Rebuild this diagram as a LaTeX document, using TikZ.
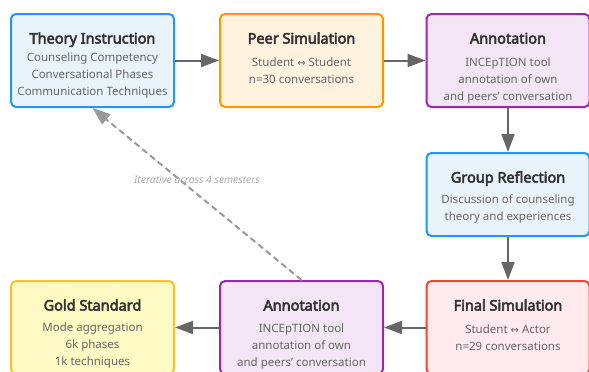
\documentclass[tikz,border=0pt]{standalone}
\usepackage{fontspec}
\setmainfont{Noto Sans}[AutoFakeBold=3.6]
\newfontfamily\arrowfont{DejaVu Sans}
\usetikzlibrary{arrows.meta, positioning}

% box colours: border / fill
\definecolor{blueline}{HTML}{2196F3}
\definecolor{bluefill}{HTML}{E8F4FA}
\definecolor{orangeline}{HTML}{FF9800}
\definecolor{orangefill}{HTML}{FFF3E0}
\definecolor{purpleline}{HTML}{9C27B0}
\definecolor{purplefill}{HTML}{F3E5F5}
\definecolor{redline}{HTML}{F44336}
\definecolor{redfill}{HTML}{FFEBEE}
\definecolor{goldline}{HTML}{FBC02D}
\definecolor{goldfill}{HTML}{FFF9C4}
\definecolor{titlegray}{HTML}{333333}
\definecolor{bodygray}{HTML}{666666}
\definecolor{arrowgray}{HTML}{666666}
\definecolor{loopgray}{HTML}{999999}
\definecolor{notegray}{HTML}{AAAAAA}

\newcommand{\lr}{{\arrowfont\fontsize{10}{17}\selectfont ↔}}

\begin{document}
\begin{tikzpicture}[x=1pt, y=-1pt,
		box/.style n args={2}{draw=#1, fill=#2, line width=2pt, rounded corners=5pt,
			minimum width=163pt, minimum height=93pt, inner sep=0pt},
		title/.style={font=\bfseries\fontsize{14.5}{16}\selectfont, text=titlegray, anchor=base, inner sep=0pt},
		body/.style={font=\fontsize{11.5}{17}\selectfont, text=bodygray, align=center, anchor=base, inner sep=0pt},
		flow/.style={-{Triangle[length=18pt, width=13pt]}, line width=2pt, draw=arrowgray, fill=arrowgray},
		loopback/.style={-{Triangle[length=18pt, width=13pt]}, line width=2pt, draw=loopgray, fill=loopgray,
			dash pattern=on 6pt off 4pt},
		note/.style={font=\itshape\fontsize{10.3}{12}\selectfont, text=notegray}
		]
		
		\clip (0,0) rectangle (589,372);
		
		% ==========================================
		% 1. STAGE BOXES
		% ==========================================
		% name / centre x / centre y / border / fill
		\foreach \name/\cx/\cy/\lclr/\fclr in {
			theory/92.5/60.5/blueline/bluefill,
			peer/301.5/60.5/orangeline/orangefill,
			annotA/508/60.5/purpleline/purplefill,
			final/508/327.5/redline/redfill,
			annotB/301.5/327.5/purpleline/purplefill,
			gold/92.5/327.5/goldline/goldfill%
		} {
			\node[box={\lclr}{\fclr}] (\name) at (\cx,\cy) {};
		}
		% the reflection box is a little shorter
		\node[box={blueline}{bluefill}, minimum height=83pt] (reflect) at (508,194.5) {};
		
		% ==========================================
		% 2. TITLES AND DESCRIPTIONS
		% ==========================================
		\foreach \name/\ttl in {
			theory/Theory Instruction,
			peer/Peer Simulation,
			annotA/Annotation,
			reflect/Group Reflection,
			final/Final Simulation,
			annotB/Annotation,
			gold/Gold Standard%
		} {
			\node[title] (\name-t) at ([yshift=-30.5pt]\name.north) {\ttl};
		}
		
		% the base of a multi-line node is its last line
		\node[body] (theory-b) at ([yshift=-82pt]theory.north)
		{Counseling Competency\\Conversational Phases\\Communication Techniques};
		\node[body] (peer-b) at ([yshift=-70.5pt]peer.north)
		{Student \lr{} Student\\n=30 conversations};
		\node[body] (annotA-b) at ([yshift=-87.5pt]annotA.north)
		{INCEpTION tool\\annotation of own\\and peers' conversation};
		\node[body] (reflect-b) at ([yshift=-68.5pt]reflect.north)
		{Discussion of counseling\\theory and experiences};
		\node[body] (final-b) at ([yshift=-70.5pt]final.north)
		{Student \lr{} Actor\\n=29 conversations};
		\node[body] (annotB-b) at ([yshift=-86.5pt]annotB.north)
		{INCEpTION tool\\annotation of own\\and peers' conversation};
		\node[body] (gold-b) at ([yshift=-85pt]gold.north)
		{Mode aggregation\\6k phases\\1k techniques};
		
		% ==========================================
		% 3. WORKFLOW ARROWS
		% ==========================================
		\draw[flow] (theory.east) -- (peer.west);
		\draw[flow] (peer.east) -- (annotA.west);
		\draw[flow] (annotA.south) -- (reflect.north);
		\draw[flow] (reflect.south) -- (final.north);
		\draw[flow] (final.west) -- (annotB.west -| annotB.east);
		\draw[flow] (annotB.west) -- (gold.east);
		
		% Iteration back to the start
		\draw[loopback] (annotB.north) -- (theory.south)
		node[note, midway, yshift=14pt] (iter) {Iterative across 4 semesters};
		
	\end{tikzpicture}
\end{document}
